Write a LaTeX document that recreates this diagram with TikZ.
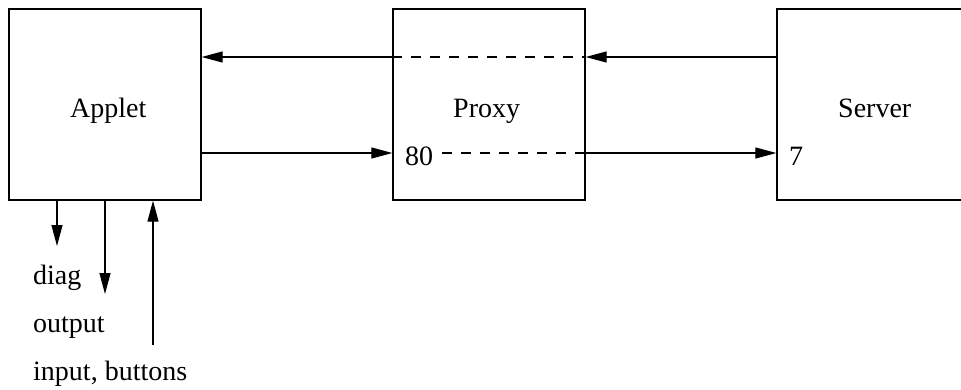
\documentclass[tikz,border=0pt]{standalone}
\usepackage{fontspec}
\setmainfont{Liberation Serif}
\usetikzlibrary{arrows.meta}
\begin{document}
\begin{tikzpicture}[x=1pt,y=-1pt,
  box/.style={draw, line width=1.3pt, minimum width=192pt, minimum height=191pt, inner sep=0pt},
  lbl/.style={inner sep=0pt, font=\fontsize{28}{34}\selectfont},
  arr/.style={line width=1.2pt, -{Triangle[length=21pt,width=11pt]}},
  dsh/.style={line width=1.2pt, dash pattern=on 10pt off 9pt}]
\useasboundingbox (0,0) rectangle (961,389);
\node[box] (applet) at (105,104.5) {};
\node[box] (proxy) at (489,104.5) {};
\node[box] (server) at (873,104.5) {};
\node[lbl, anchor=base west] (tapplet) at (70,117) {Applet};
\node[lbl, anchor=base west] (tproxy) at (453,117) {Proxy};
\node[lbl, anchor=base west] (tserver) at (838,117) {Server};
\coordinate (t) at (0,57);
\coordinate (b) at (0,153);
% top flow
\draw[arr] (server.west |- t) -- (proxy.east |- t);
\draw[dsh] (proxy.west |- t) -- (proxy.east |- t);
\draw[arr] (proxy.west |- t) -- (applet.east |- t);
% bottom flow
\draw[arr] (applet.east |- b) -- (proxy.west |- b);
\node[lbl, anchor=base west] (p80) at (405,165) {80};
\node[lbl, anchor=base west] (p7) at (789,165) {7};
\draw[dsh] ([xshift=9pt]p80.east |- b) -- (proxy.east |- b);
\draw[arr] (proxy.east |- b) -- (server.west |- b);
% bottom labels
\node[lbl, anchor=base west] (diag) at (33,284) {diag};
\node[lbl, anchor=base west] (output) at (33,332) {output};
\node[lbl, anchor=base west] (input) at (33,380) {input, buttons};
\coordinate (d1) at (57,246);
\coordinate (d2) at (105,294);
\coordinate (u1) at (153,345);
\draw[arr] (applet.south -| d1) -- (d1);
\draw[arr] (applet.south -| d2) -- (d2);
\draw[arr] (u1) -- (applet.south -| u1);
\end{tikzpicture}
\end{document}
